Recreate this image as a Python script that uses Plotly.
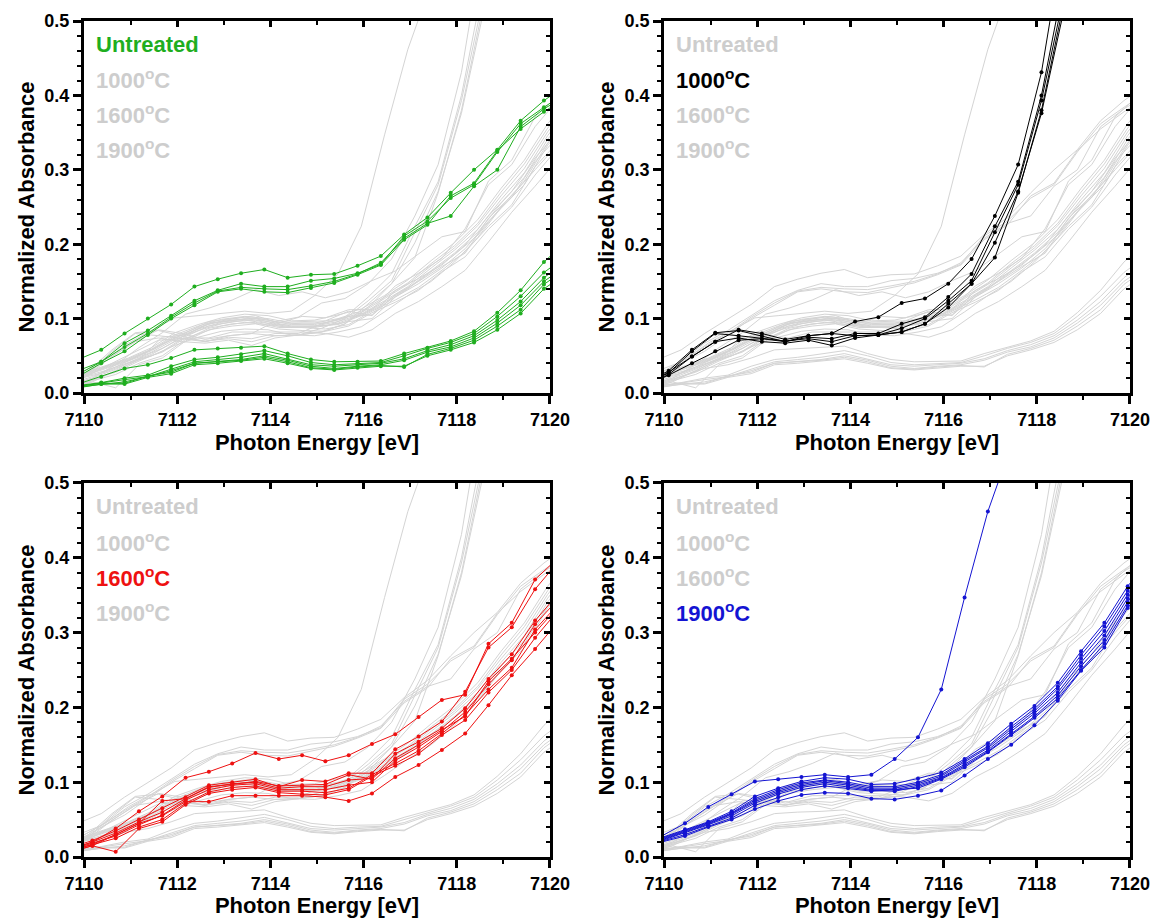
import plotly.graph_objects as go

# ---------------- data ----------------
X_UNTREATED = [7109.87, 7110.37, 7110.87, 7111.37, 7111.87, 7112.37, 7112.87, 7113.37, 7113.87, 7114.37, 7114.87,
               7115.37, 7115.87, 7116.37, 7116.87, 7117.37, 7117.87, 7118.37, 7118.87, 7119.37, 7119.87, 7120.37]
UNTREATED = [
    [0.045, 0.058, 0.080, 0.100, 0.119, 0.143, 0.153, 0.161, 0.166, 0.155, 0.159, 0.160, 0.171, 0.184, 0.213, 0.236, 0.269, 0.300, 0.327, 0.366, 0.393, 0.415],
    [0.030, 0.042, 0.067, 0.084, 0.104, 0.124, 0.138, 0.147, 0.143, 0.143, 0.151, 0.154, 0.161, 0.173, 0.211, 0.231, 0.262, 0.280, 0.324, 0.362, 0.384, 0.405],
    [0.025, 0.042, 0.062, 0.080, 0.102, 0.121, 0.137, 0.142, 0.140, 0.139, 0.144, 0.150, 0.160, 0.175, 0.208, 0.228, 0.238, 0.278, 0.300, 0.358, 0.382, 0.400],
    [0.022, 0.040, 0.056, 0.078, 0.100, 0.118, 0.136, 0.140, 0.136, 0.135, 0.141, 0.148, 0.159, 0.172, 0.206, 0.226, 0.265, 0.282, 0.326, 0.355, 0.378, 0.398],
    [0.012, 0.022, 0.033, 0.038, 0.047, 0.058, 0.060, 0.061, 0.063, 0.053, 0.045, 0.042, 0.042, 0.043, 0.053, 0.061, 0.070, 0.083, 0.108, 0.138, 0.176, 0.205],
    [0.010, 0.014, 0.020, 0.024, 0.036, 0.045, 0.048, 0.052, 0.057, 0.050, 0.041, 0.038, 0.040, 0.041, 0.050, 0.060, 0.068, 0.080, 0.103, 0.130, 0.162, 0.185],
    [0.009, 0.013, 0.018, 0.022, 0.032, 0.042, 0.045, 0.048, 0.053, 0.046, 0.038, 0.036, 0.038, 0.040, 0.046, 0.057, 0.065, 0.077, 0.098, 0.123, 0.155, 0.178],
    [0.008, 0.012, 0.015, 0.022, 0.030, 0.040, 0.043, 0.045, 0.050, 0.044, 0.036, 0.033, 0.036, 0.038, 0.044, 0.055, 0.062, 0.074, 0.094, 0.118, 0.150, 0.172],
    [0.009, 0.013, 0.013, 0.023, 0.028, 0.040, 0.042, 0.044, 0.048, 0.042, 0.034, 0.032, 0.035, 0.037, 0.035, 0.052, 0.060, 0.071, 0.090, 0.112, 0.146, 0.168],
    [0.007, 0.012, 0.012, 0.021, 0.026, 0.038, 0.040, 0.043, 0.046, 0.040, 0.033, 0.031, 0.034, 0.036, 0.036, 0.050, 0.058, 0.068, 0.085, 0.107, 0.140, 0.162],
]

X_1000 = [7109.6, 7110.1, 7110.6, 7111.1, 7111.6, 7112.1, 7112.6, 7113.1, 7113.6, 7114.1, 7114.6, 7115.1,
          7115.6, 7116.1, 7116.6, 7117.1, 7117.6, 7118.1, 7118.6]
T1000 = [
    [0.012, 0.028, 0.049, 0.069, 0.085, 0.080, 0.072, 0.077, 0.080, 0.096, 0.102, 0.121, 0.127, 0.147, 0.180, 0.238, 0.307, 0.431, 0.620],
    [0.013, 0.030, 0.058, 0.081, 0.084, 0.077, 0.069, 0.075, 0.073, 0.080, 0.080, 0.093, 0.102, 0.129, 0.160, 0.224, 0.284, 0.400, 0.560],
    [0.012, 0.027, 0.056, 0.080, 0.077, 0.073, 0.070, 0.073, 0.069, 0.077, 0.078, 0.087, 0.100, 0.124, 0.151, 0.216, 0.280, 0.393, 0.540],
    [0.011, 0.025, 0.049, 0.069, 0.074, 0.069, 0.067, 0.071, 0.064, 0.074, 0.078, 0.082, 0.093, 0.120, 0.147, 0.202, 0.271, 0.376, 0.520],
    [0.010, 0.024, 0.040, 0.056, 0.071, 0.073, 0.069, 0.077, 0.080, 0.077, 0.078, 0.082, 0.093, 0.115, 0.147, 0.182, 0.269, 0.380, 0.530],
]

X_1600 = [7109.68, 7110.18, 7110.68, 7111.18, 7111.68, 7112.18, 7112.68, 7113.18, 7113.68, 7114.18, 7114.68,
          7115.18, 7115.68, 7116.18, 7116.68, 7117.18, 7117.68, 7118.18, 7118.68, 7119.18, 7119.68, 7120.18]
T1600 = [
    [0.010, 0.020, 0.038, 0.061, 0.081, 0.106, 0.114, 0.125, 0.139, 0.131, 0.136, 0.128, 0.136, 0.151, 0.164, 0.187, 0.210, 0.217, 0.285, 0.313, 0.371, 0.400],
    [0.012, 0.022, 0.035, 0.050, 0.065, 0.080, 0.096, 0.100, 0.104, 0.094, 0.103, 0.101, 0.112, 0.112, 0.144, 0.161, 0.181, 0.221, 0.280, 0.307, 0.358, 0.395],
    [0.010, 0.020, 0.032, 0.047, 0.060, 0.078, 0.093, 0.098, 0.100, 0.092, 0.094, 0.094, 0.103, 0.105, 0.138, 0.154, 0.172, 0.199, 0.238, 0.271, 0.316, 0.352],
    [0.009, 0.018, 0.028, 0.043, 0.056, 0.076, 0.090, 0.096, 0.098, 0.090, 0.090, 0.090, 0.096, 0.100, 0.129, 0.147, 0.168, 0.194, 0.231, 0.263, 0.311, 0.345],
    [0.008, 0.016, 0.025, 0.040, 0.050, 0.072, 0.087, 0.093, 0.095, 0.088, 0.088, 0.086, 0.092, 0.110, 0.125, 0.142, 0.165, 0.190, 0.224, 0.253, 0.304, 0.338],
    [0.006, 0.015, 0.007, 0.038, 0.047, 0.070, 0.085, 0.090, 0.093, 0.086, 0.084, 0.083, 0.090, 0.108, 0.122, 0.138, 0.163, 0.183, 0.220, 0.250, 0.293, 0.330],
    [0.008, 0.017, 0.030, 0.045, 0.075, 0.078, 0.094, 0.097, 0.101, 0.095, 0.096, 0.097, 0.110, 0.104, 0.132, 0.150, 0.170, 0.188, 0.235, 0.265, 0.300, 0.335],
    [0.007, 0.015, 0.030, 0.045, 0.055, 0.074, 0.074, 0.082, 0.082, 0.082, 0.082, 0.080, 0.075, 0.085, 0.107, 0.123, 0.143, 0.165, 0.203, 0.243, 0.278, 0.315],
]

X_1900 = [7109.95, 7110.45, 7110.95, 7111.45, 7111.95, 7112.45, 7112.95, 7113.45, 7113.95, 7114.45, 7114.95,
          7115.45, 7115.95, 7116.45, 7116.95, 7117.45, 7117.95, 7118.45, 7118.95, 7119.45, 7119.95, 7120.45]
T1900 = [
    [0.028, 0.045, 0.067, 0.084, 0.101, 0.104, 0.107, 0.110, 0.107, 0.110, 0.131, 0.160, 0.224, 0.347, 0.462, 0.550, None, None, None, None, None, None],
    [0.026, 0.037, 0.047, 0.061, 0.081, 0.092, 0.101, 0.106, 0.104, 0.097, 0.098, 0.105, 0.113, 0.131, 0.152, 0.178, 0.202, 0.233, 0.275, 0.313, 0.362, 0.400],
    [0.025, 0.035, 0.046, 0.059, 0.078, 0.090, 0.099, 0.103, 0.100, 0.094, 0.094, 0.100, 0.110, 0.129, 0.148, 0.174, 0.198, 0.228, 0.270, 0.308, 0.356, 0.395],
    [0.024, 0.034, 0.045, 0.058, 0.076, 0.088, 0.097, 0.102, 0.098, 0.092, 0.092, 0.098, 0.108, 0.127, 0.146, 0.171, 0.195, 0.225, 0.265, 0.302, 0.351, 0.390],
    [0.023, 0.033, 0.044, 0.057, 0.074, 0.086, 0.095, 0.100, 0.096, 0.090, 0.090, 0.096, 0.106, 0.124, 0.143, 0.168, 0.192, 0.220, 0.260, 0.296, 0.346, 0.385],
    [0.022, 0.032, 0.043, 0.055, 0.072, 0.084, 0.093, 0.098, 0.094, 0.089, 0.088, 0.094, 0.105, 0.122, 0.141, 0.165, 0.188, 0.216, 0.255, 0.290, 0.341, 0.380],
    [0.021, 0.030, 0.041, 0.052, 0.069, 0.080, 0.090, 0.095, 0.092, 0.088, 0.090, 0.092, 0.104, 0.120, 0.140, 0.163, 0.186, 0.212, 0.250, 0.285, 0.336, 0.375],
    [0.020, 0.028, 0.040, 0.050, 0.064, 0.075, 0.083, 0.086, 0.085, 0.078, 0.077, 0.082, 0.089, 0.109, 0.131, 0.150, 0.176, 0.209, 0.249, 0.280, 0.333, 0.370],
]

GROUP_NAMES = ["Untreated", "1000<sup>o</sup>C", "1600<sup>o</sup>C", "1900<sup>o</sup>C"]
GROUP_COLORS = ["#1fae1f", "#000000", "#ee1111", "#1414d2"]
GROUPS = [(X_UNTREATED, UNTREATED), (X_1000, T1000), (X_1600, T1600), (X_1900, T1900)]

X_RANGE = [7110, 7120]
Y_RANGE = [0, 0.5]
X_TICKS = [7110, 7112, 7114, 7116, 7118, 7120]
Y_TICKS = [0.0, 0.1, 0.2, 0.3, 0.4, 0.5]

# ---------------- layout geometry ----------------
X_DOMAINS = [[0, 0.4455], [0.5545, 1], [0, 0.4455], [0.5545, 1]]
Y_DOMAINS = [[0.555, 1], [0.555, 1], [0, 0.4474], [0, 0.4474]]

GRAY = "rgb(212,212,212)"
LABEL_GRAY = "rgb(205,205,205)"
FONT = "Liberation Sans, Arial, sans-serif"

fig = go.Figure()

for p in range(4):
    xa = "x" if p == 0 else f"x{p+1}"
    ya = "y" if p == 0 else f"y{p+1}"
    # gray background groups
    for g, (xs, curves) in enumerate(GROUPS):
        if g == p:
            continue
        for ys in curves:
            fig.add_trace(go.Scatter(x=xs, y=ys, mode="lines", xaxis=xa, yaxis=ya,
                                     line=dict(color=GRAY, width=1), showlegend=False,
                                     hoverinfo="skip"))
    # highlighted group
    xs, curves = GROUPS[p]
    for ys in curves:
        fig.add_trace(go.Scatter(x=xs, y=ys, mode="lines+markers", xaxis=xa, yaxis=ya,
                                 line=dict(color=GROUP_COLORS[p], width=1),
                                 marker=dict(color=GROUP_COLORS[p], size=4),
                                 showlegend=False))
    # dummy trace for overlay (mirror tick) axes
    fig.add_trace(go.Scatter(x=[None], y=[None], xaxis=f"x{p+5}", yaxis=f"y{p+5}",
                             showlegend=False, hoverinfo="skip"))

tickfont = dict(family=FONT, size=18, color="black", weight="bold")
titlefont = dict(family=FONT, size=22, color="black", weight="bold")

layout = dict(
    width=1157, height=918, autosize=False,
    margin=dict(l=84, r=27, t=21, b=61, pad=0),
    plot_bgcolor="white", paper_bgcolor="white",
    showlegend=False,
    font=dict(family=FONT),
)

annotations = []
for p in range(4):
    xk = "xaxis" if p == 0 else f"xaxis{p+1}"
    yk = "yaxis" if p == 0 else f"yaxis{p+1}"
    xa = "x" if p == 0 else f"x{p+1}"
    ya = "y" if p == 0 else f"y{p+1}"
    layout[xk] = dict(
        domain=X_DOMAINS[p], anchor=ya, range=X_RANGE, tickmode="array", tickvals=X_TICKS,
        ticks="outside", ticklen=8, tickwidth=3, tickcolor="black",
        showline=True, linewidth=3, linecolor="black", mirror=True,
        showgrid=False, zeroline=False, tickfont=tickfont, automargin=False,
        minor=dict(dtick=1, tick0=7110, ticks="outside", ticklen=4, tickwidth=2, tickcolor="black"),
        title=dict(text="Photon Energy [eV]", font=titlefont, standoff=6),
    )
    layout[yk] = dict(
        domain=Y_DOMAINS[p], anchor=xa, range=Y_RANGE, tickmode="array", tickvals=Y_TICKS,
        tickformat=".1f",
        ticks="outside", ticklen=8, tickwidth=3, tickcolor="black",
        showline=True, linewidth=3, linecolor="black", mirror=True,
        showgrid=False, zeroline=False, tickfont=tickfont, automargin=False,
        minor=dict(dtick=0.02, tick0=0, ticks="outside", ticklen=4, tickwidth=2, tickcolor="black"),
        title=dict(text="Normalized Absorbance", font=titlefont, standoff=4),
    )
    # overlay axes providing inward mirrored ticks on top/right
    layout[f"xaxis{p+5}"] = dict(
        overlaying=xa, anchor=f"y{p+5}", side="top", range=X_RANGE, tickmode="array", tickvals=X_TICKS,
        ticks="inside", ticklen=6, tickwidth=3, tickcolor="black", showticklabels=False,
        showline=False, showgrid=False, zeroline=False,
        minor=dict(dtick=1, tick0=7110, ticks="inside", ticklen=4, tickwidth=2, tickcolor="black"),
    )
    layout[f"yaxis{p+5}"] = dict(
        overlaying=ya, anchor=f"x{p+5}", side="right", range=Y_RANGE, tickmode="array", tickvals=Y_TICKS,
        ticks="inside", ticklen=6, tickwidth=3, tickcolor="black", showticklabels=False,
        showline=False, showgrid=False, zeroline=False,
        minor=dict(dtick=0.02, tick0=0, ticks="inside", ticklen=4, tickwidth=2, tickcolor="black"),
    )
    label_y = [0.937, 0.843, 0.749, 0.655]
    for g in range(4):
        annotations.append(dict(
            xref=f"{xa} domain", yref=f"{ya} domain", x=0.022, y=label_y[g],
            xanchor="left", yanchor="middle", showarrow=False,
            text=GROUP_NAMES[g],
            font=dict(family=FONT, size=22, weight="bold",
                      color=GROUP_COLORS[p] if g == p else LABEL_GRAY),
        ))

layout["annotations"] = annotations
fig.update_layout(**layout)

fig.write_html("out.html")
